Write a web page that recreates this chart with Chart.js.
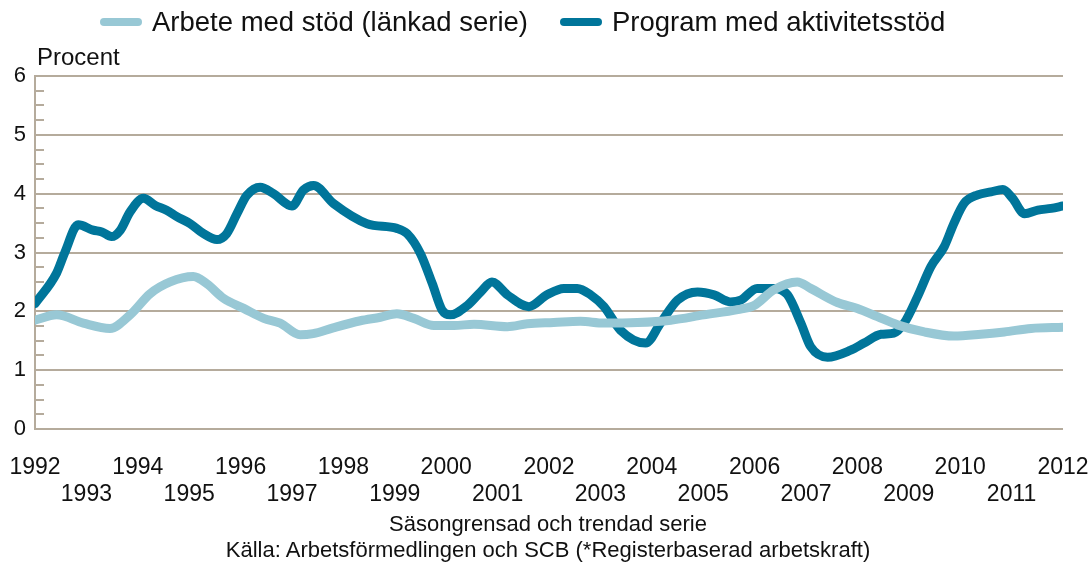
<!DOCTYPE html>
<html>
<head>
<meta charset="utf-8">
<script src="https://cdn.jsdelivr.net/npm/chart.js@4.4.1/dist/chart.umd.min.js"></script>
<style>
  html, body { margin: 0; padding: 0; background: #fff; }
  #wrap { position: relative; width: 1092px; height: 564px; font-family: "Liberation Sans", Arial, sans-serif; color: #111; }
  canvas { position: absolute; left: 0; top: 0; }
  #legend { position: absolute; left: 100px; top: 7px; display: flex; align-items: center; font-size: 27.5px; line-height: 30px; white-space: nowrap; }
  .sw { width: 42px; height: 8px; border-radius: 4px; margin-right: 10px; }
  .lt { margin-right: 32px; }
  #unit { position: absolute; left: 37px; top: 44px; font-size: 24px; line-height: 26px; }
  #foot { position: absolute; left: 0; width: 1096px; top: 511px; text-align: center; font-size: 22px; line-height: 26px; }
</style>
</head>
<body>
<div id="wrap">
  <canvas id="c" width="1092" height="564"></canvas>
  <div id="legend"></div>
  <div id="unit">Procent</div>
  <div id="foot"></div>
</div>
<script>
const seriesNames = ['Arbete med stöd (länkad serie)', 'Program med aktivitetsstöd'];
const seriesColors = ['#98c8d5', '#00759a'];
const footerLines = ['Säsongrensad och trendad serie', 'Källa: Arbetsförmedlingen och SCB (*Registerbaserad arbetskraft)'];
const yTickValues = [0, 1, 2, 3, 4, 5, 6];
const xTickYears = [1992,1993,1994,1995,1996,1997,1998,1999,2000,2001,2002,2003,2004,2005,2006,2007,2008,2009,2010,2011,2012];

const lightYears = [1992.00,1992.42,1992.94,1993.46,1993.85,1994.24,1994.63,1995.08,1995.34,1995.67,1996.06,1996.45,1996.77,1997.16,1997.41,1997.80,1998.33,1998.72,1999.04,1999.37,1999.76,2000.15,2000.54,2001.19,2001.58,2002.09,2002.61,2003.07,2003.72,2004.37,2005.01,2005.67,2005.99,2006.38,2006.83,2007.09,2007.61,2008.00,2008.39,2008.78,2009.30,2009.88,2010.40,2010.86,2011.38,2012.00];
const lightValues = [1.85,1.94,1.80,1.71,1.94,2.30,2.50,2.59,2.47,2.22,2.05,1.88,1.80,1.60,1.62,1.72,1.84,1.90,1.96,1.88,1.76,1.76,1.78,1.74,1.79,1.81,1.83,1.80,1.81,1.85,1.94,2.03,2.10,2.37,2.50,2.39,2.15,2.05,1.91,1.77,1.65,1.58,1.61,1.65,1.71,1.73];

const darkYears = [1992.00,1992.42,1992.58,1992.84,1993.13,1993.30,1993.49,1993.66,1993.85,1994.11,1994.34,1994.56,1994.76,1995.02,1995.28,1995.54,1995.73,1995.93,1996.12,1996.38,1996.64,1997.00,1997.22,1997.42,1997.81,1998.46,1999.04,1999.24,1999.50,1999.73,1999.92,2000.08,2000.41,2000.67,2000.89,2001.19,2001.61,2001.96,2002.29,2002.55,2002.81,2003.07,2003.39,2003.88,2004.17,2004.50,2004.89,2005.21,2005.53,2005.73,2006.05,2006.38,2006.64,2006.90,2007.09,2007.42,2007.87,2008.13,2008.46,2008.71,2008.91,2009.17,2009.43,2009.69,2009.88,2010.08,2010.34,2010.60,2010.83,2011.02,2011.25,2011.51,2011.77,2012.00];
const darkValues = [2.13,2.65,3.00,3.47,3.38,3.35,3.27,3.38,3.69,3.92,3.80,3.72,3.61,3.49,3.32,3.22,3.32,3.66,3.97,4.11,4.00,3.79,4.06,4.14,3.83,3.49,3.41,3.32,2.98,2.47,2.02,1.94,2.10,2.33,2.50,2.28,2.08,2.28,2.39,2.39,2.28,2.08,1.68,1.46,1.80,2.19,2.33,2.28,2.16,2.19,2.39,2.39,2.28,1.80,1.40,1.22,1.34,1.46,1.61,1.63,1.80,2.25,2.76,3.10,3.50,3.84,3.98,4.03,4.07,3.92,3.66,3.72,3.75,3.79];

const tan = '#b5ab9c';
const toPoints = (xs, ys) => xs.map((x, i) => ({ x: x, y: ys[i] }));

const lg = document.getElementById('legend');
seriesNames.forEach((n, i) => {
  const s = document.createElement('span'); s.className = 'sw'; s.style.background = seriesColors[i]; lg.appendChild(s);
  const t = document.createElement('span'); t.className = 'lt'; t.textContent = n; lg.appendChild(t);
});
document.getElementById('foot').innerHTML = footerLines.map(l => '<div>' + l + '</div>').join('');

const minorTicks = {
  id: 'minorTicks',
  beforeDatasetsDraw(chart) {
    const y = chart.scales.y, ctx = chart.ctx, left = chart.chartArea.left;
    ctx.save();
    ctx.strokeStyle = tan; ctx.lineWidth = 2;
    for (let v = y.min; v < y.max; v += 0.25) {
      if (Math.abs(v - Math.round(v)) < 1e-6) continue;
      const py = Math.round(y.getPixelForValue(v));
      ctx.beginPath(); ctx.moveTo(left, py); ctx.lineTo(left + 9, py); ctx.stroke();
    }
    ctx.restore();
  }
};

new Chart(document.getElementById('c'), {
  type: 'line',
  data: {
    datasets: [
      { label: seriesNames[0], data: toPoints(lightYears, lightValues), borderColor: seriesColors[0], borderWidth: 9, pointRadius: 0, cubicInterpolationMode: 'monotone', borderCapStyle: 'round', borderJoinStyle: 'round' },
      { label: seriesNames[1], data: toPoints(darkYears, darkValues), borderColor: seriesColors[1], borderWidth: 9, pointRadius: 0, cubicInterpolationMode: 'monotone', borderCapStyle: 'round', borderJoinStyle: 'round' }
    ]
  },
  options: {
    responsive: false,
    animation: false,
    layout: { padding: { top: 76, left: 14, right: 29, bottom: 56 }, autoPadding: false },
    plugins: { legend: { display: false }, tooltip: { enabled: false }, title: { display: false } },
    scales: {
      x: {
        type: 'linear', min: xTickYears[0], max: xTickYears[xTickYears.length - 1],
        afterBuildTicks: (s) => { s.ticks = xTickYears.map(v => ({ value: v })); },
        afterFit: (s) => { s.paddingLeft = 0; s.paddingRight = 0; s.height = 79; },
        grid: { display: false, drawTicks: false },
        border: { display: false },
        ticks: {
          autoSkip: false, maxRotation: 0, minRotation: 0, padding: 25, color: '#111',
          font: { family: '"Liberation Sans", Arial, sans-serif', size: 23, lineHeight: 1.17 },
          callback: (v) => (v % 2 === 0) ? String(v) : ['', String(v)]
        }
      },
      y: {
        min: yTickValues[0], max: yTickValues[yTickValues.length - 1],
        afterBuildTicks: (s) => { s.ticks = yTickValues.map(v => ({ value: v })); },
        afterFit: (s) => { s.paddingTop = 0; s.paddingBottom = 0; s.width = 21; },
        grid: { color: tan, lineWidth: 2, drawTicks: false },
        border: { display: true, color: tan, width: 2 },
        ticks: { padding: 9, color: '#111', font: { family: '"Liberation Sans", Arial, sans-serif', size: 22 } }
      }
    }
  },
  plugins: [minorTicks]
});
</script>
</body>
</html>
